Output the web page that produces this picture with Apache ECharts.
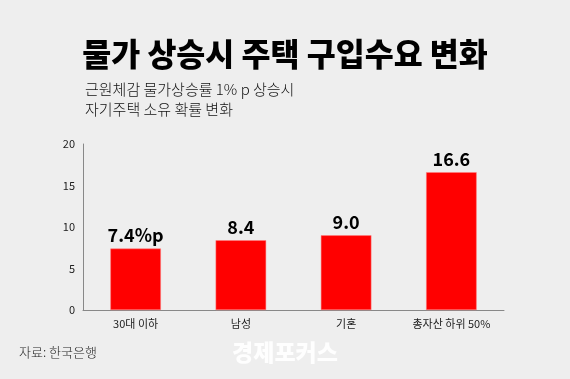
<!DOCTYPE html>
<html><head><meta charset="utf-8">
<script src="https://cdn.jsdelivr.net/npm/echarts@6/dist/echarts.min.js"></script>
<style>html,body{margin:0;padding:0;background:#eeeeee;}#c{width:570px;height:379px;}</style>
</head><body><div id="c"></div>
<script>
const categories = ['30대 이하', '남성', '기혼', '총자산 하위 50%'];
const values = [7.4, 8.4, 9.0, 16.6];
const valueLabels = ['7.4%p', '8.4', '9.0', '16.6'];
const titleText = '물가 상승시 주택 구입수요 변화';
const subtitleLines = ['근원체감 물가상승률 1% p 상승시', '자기주택 소유 확률 변화'];
const sourceText = '자료: 한국은행';
const watermarkText = '경제포커스';

const font = '"Noto Sans CJK KR", "Noto Sans", sans-serif';
const chart = echarts.init(document.getElementById('c'), null, {renderer: 'canvas'});
chart.setOption({
  backgroundColor: '#eeeeee',
  animation: false,
  textStyle: {fontFamily: font},
  graphic: [
    {type: 'text', left: 'center', top: 38, style: {text: titleText, font: '900 31.5px ' + font, fill: '#000'}},
    {type: 'text', left: 85, top: 79, style: {text: subtitleLines.join('\n'), font: '300 15px ' + font, lineHeight: 20, fill: '#111'}},
    {type: 'text', left: 19, top: 346, style: {text: sourceText, font: '300 13px ' + font, fill: '#222'}},
    {type: 'text', left: 'center', top: 341, style: {text: watermarkText, font: '900 23px ' + font, fill: 'rgba(255,255,255,0.9)'}}
  ],
  grid: {left: 83, right: 66, top: 144, bottom: 69},
  xAxis: {
    type: 'category', data: categories,
    axisLine: {lineStyle: {color: '#888', width: 1}},
    axisTick: {show: false},
    axisLabel: {color: '#222', fontSize: 11, margin: 8, fontFamily: font}
  },
  yAxis: {
    type: 'value', min: 0, max: 20, interval: 5,
    axisLine: {show: true, lineStyle: {color: '#888', width: 1}},
    axisTick: {show: false},
    splitLine: {show: false},
    axisLabel: {color: '#222', fontSize: 11, margin: 8, fontFamily: font}
  },
  series: [{
    type: 'bar', data: values, barWidth: '48%',
    itemStyle: {color: '#ff0000', borderColor: '#ff8080', borderWidth: 0.5},
    label: {show: true, position: 'top', distance: 4, color: '#000', fontSize: 18, fontWeight: 'bold', fontFamily: font,
      formatter: p => valueLabels[p.dataIndex]}
  }]
});
</script></body></html>
